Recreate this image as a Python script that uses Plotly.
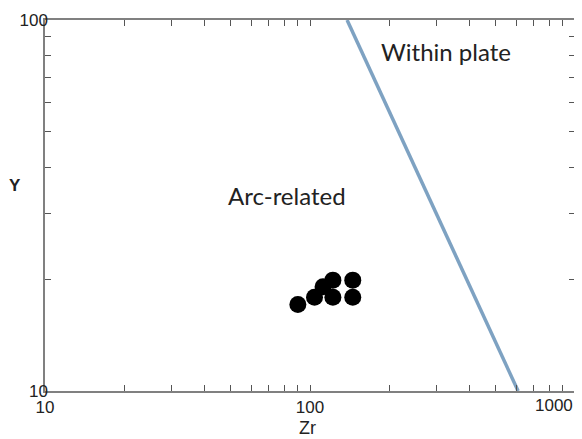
import math
import plotly.graph_objects as go

# Data
zr_points = [90, 104, 112, 122, 122, 145, 145]
y_points = [17.1, 17.9, 19.1, 19.9, 17.9, 19.9, 17.9]
boundary_zr = [138, 610]
boundary_y = [100, 10]
x_major = [10, 100, 1000]
y_major = [10, 100]
x_minor = [20, 30, 40, 50, 60, 70, 80, 90, 200, 300, 400, 500, 600, 700, 800, 900]
y_minor = [20, 30, 40, 50, 60, 70, 80, 90]

fig = go.Figure()
fig.add_trace(go.Scatter(x=boundary_zr, y=boundary_y, mode="lines",
                         line=dict(color="#7ea2c2", width=3.5), showlegend=False, hoverinfo="skip"))
fig.add_trace(go.Scatter(x=zr_points, y=y_points, mode="markers",
                         marker=dict(color="black", size=17), showlegend=False))

tick_font = dict(family="Liberation Sans, Arial", size=17, color="#222")
axis_common = dict(type="log", showgrid=False, zeroline=False, showline=True, linecolor="#808080",
                   linewidth=1.5, mirror="ticks", ticks="inside", ticklen=6, tickcolor="#555",
                   automargin=False, tickfont=tick_font)

# last x label (1000) drawn as annotation, right-aligned inside the figure edge
x_text = [str(v) for v in x_major[:-1]] + [""]
fig.update_xaxes(range=[1, 3], tickvals=x_major, ticktext=x_text,
                 minor=dict(tickvals=x_minor, ticks="inside", ticklen=6, tickcolor="#555"),
                 **axis_common)
fig.update_yaxes(range=[1, 2], tickvals=y_major, ticktext=[str(v) for v in y_major],
                 minor=dict(tickvals=y_minor, ticks="inside", ticklen=6, tickcolor="#555"),
                 ticklabelstandoff=-8,
                 **axis_common)

fig.add_annotation(x=math.log10(x_major[-1]), y=-14 / 371, xref="x", yref="paper",
                   text=str(x_major[-1]), showarrow=False, xanchor="right", yanchor="middle",
                   xshift=0, font=tick_font)

ann = dict(xref="paper", yref="paper", showarrow=False, xanchor="center", yanchor="middle")
# axis titles
fig.add_annotation(x=(307 - 45) / 530, y=(391 - 428) / 371, text="Zr",
                   font=dict(family="Liberation Sans, Arial", size=18, color="#222"), **ann)
fig.add_annotation(x=(15 - 45) / 530, y=(391 - 185) / 371, text="<b>Y</b>",
                   font=dict(family="Liberation Sans, Arial", size=17, color="#222"), **ann)

fig.add_annotation(x=(287 - 45) / 530, y=(391 - 195) / 371, text="Arc-related",
                   font=dict(family="Lato", size=24, color="#222"), **ann)
fig.add_annotation(x=(446 - 45) / 530, y=(391 - 52) / 371, text="Within plate",
                   font=dict(family="Lato", size=24, color="#222"), **ann)

fig.update_layout(width=574, height=431, margin=dict(l=37, r=7, t=12, b=48),
                  plot_bgcolor="white", paper_bgcolor="white")
fig.write_html("out.html")
